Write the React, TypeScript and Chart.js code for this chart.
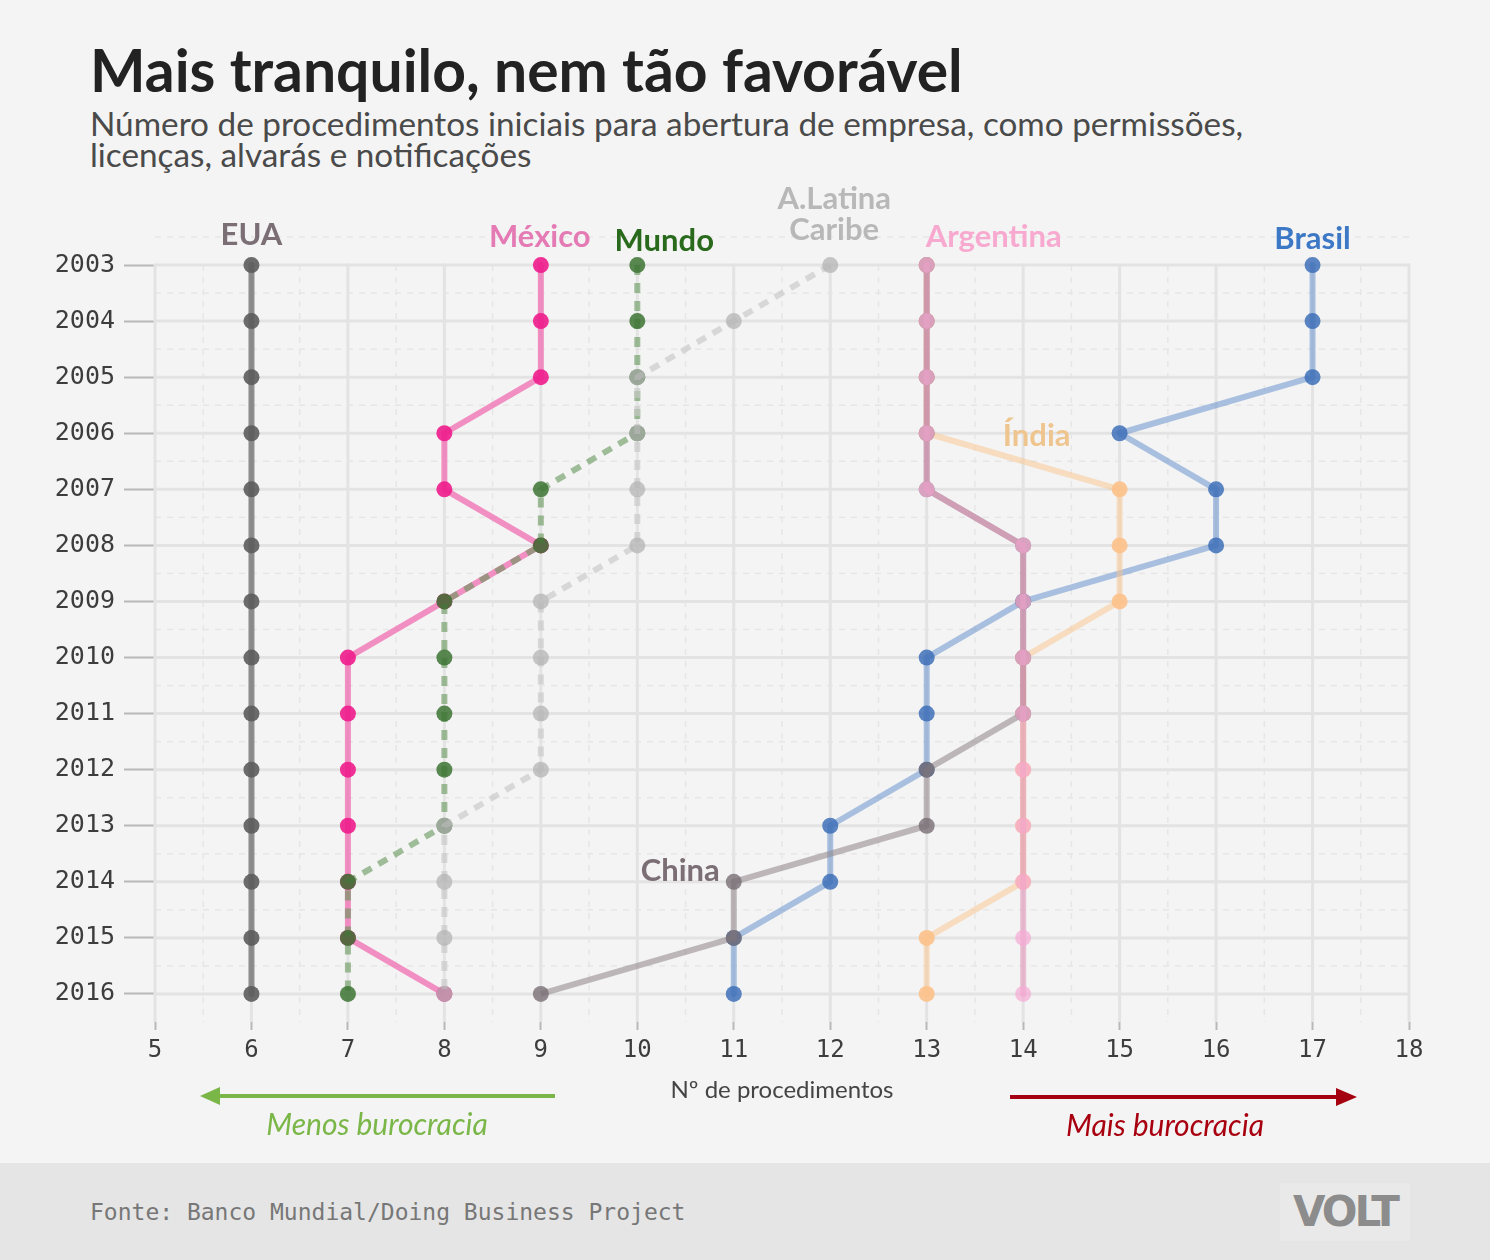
import React, { useEffect, useRef } from 'react';
import { Chart, registerables } from 'chart.js';

Chart.register(...registerables);

// ---------- data ----------
const years = ['2003', '2004', '2005', '2006', '2007', '2008', '2009', '2010', '2011', '2012', '2013', '2014', '2015', '2016'];
const xTicksMin = 5;
const xTicksMax = 18;

const eua = [6, 6, 6, 6, 6, 6, 6, 6, 6, 6, 6, 6, 6, 6];
const mexico = [9, 9, 9, 8, 8, 9, 8, 7, 7, 7, 7, 7, 7, 8];
const mundo = [10, 10, 10, 10, 9, 9, 8, 8, 8, 8, 8, 7, 7, 7];
const alc = [12, 11, 10, 10, 10, 10, 9, 9, 9, 9, 8, 8, 8, 8];
const argentina = [13, 13, 13, 13, 13, 14, 14, 14, 14, 14, 14, 14, 14, 14];
const brasil = [17, 17, 17, 15, 16, 16, 14, 13, 13, 13, 12, 12, 11, 11];
const india = [13, 13, 13, 13, 15, 15, 15, 14, 14, 14, 14, 14, 13, 13];
const china = [13, 13, 13, 13, 13, 14, 14, 14, 14, 13, 13, 11, 11, 9];

// drawing order: first = bottom
const seriesDefs = [
  { name: 'Brasil', values: brasil, line: 'rgba(105,148,205,0.55)', point: 'rgba(62,112,185,0.85)', dashed: false },
  { name: 'Índia', values: india, line: 'rgba(250,200,150,0.55)', point: 'rgba(252,193,138,0.9)', dashed: false },
  { name: 'China', values: china, line: 'rgba(150,140,143,0.6)', point: 'rgba(120,110,116,0.8)', dashed: false },
  { name: 'Argentina', values: argentina, line: 'rgba(225,135,180,0.5)', point: 'rgba(245,172,212,0.72)', dashed: false },
  { name: 'EUA', values: eua, line: 'rgba(100,100,100,0.7)', point: 'rgba(92,92,92,0.9)', dashed: false },
  { name: 'México', values: mexico, line: 'rgba(240,110,178,0.75)', point: 'rgba(238,28,140,0.9)', dashed: false },
  { name: 'Mundo', values: mundo, line: 'rgba(100,150,88,0.6)', point: 'rgba(60,115,50,0.85)', dashed: true },
  { name: 'A.Latina Caribe', values: alc, line: 'rgba(200,200,200,0.65)', point: 'rgba(180,180,180,0.75)', dashed: true },
];

// series name annotations
const annotations = [
  { lines: ['EUA'], color: '#7b6e75' },
  { lines: ['México'], color: '#e47bb4' },
  { lines: ['Mundo'], color: '#2a6a1c' },
  { lines: ['A.Latina', 'Caribe'], color: '#b8b8b8' },
  { lines: ['Argentina'], color: '#f8a9cf' },
  { lines: ['Brasil'], color: '#3d78c6' },
  { lines: ['Índia'], color: '#eec58f' },
  { lines: ['China'], color: '#7b6e75' },
];

const title = 'Mais tranquilo, nem tão favorável';
const subtitle1 = 'Número de procedimentos iniciais para abertura de empresa, como permissões,';
const subtitle2 = 'licenças, alvarás e notificações';
const xTitle = 'Nº de procedimentos';
const lessLabel = 'Menos burocracia';
const moreLabel = 'Mais burocracia';
const source = 'Fonte: Banco Mundial/Doing Business Project';

export default function App() {
  const ref = useRef<HTMLCanvasElement>(null);

  useEffect(() => {
    const canvas = ref.current;
    if (!canvas) return;

    const gridPlugin = {
      id: 'customGrid',
      beforeDatasetsDraw(chart: any) {
        const { ctx, chartArea, scales } = chart;
        const x = scales.x;
        const y = scales.y;
        const top = y.getPixelForValue(0);
        const step = y.getPixelForValue(1) - top;
        const x0 = x.getPixelForValue(xTicksMin);
        const x1 = x.getPixelForValue(xTicksMax);
        const seg = (ax: number, ay: number, bx: number, by: number) => {
          ctx.beginPath();
          ctx.moveTo(ax, ay);
          ctx.lineTo(bx, by);
          ctx.stroke();
        };
        ctx.save();
        ctx.strokeStyle = '#e6e6e6';
        ctx.lineWidth = 1.5;
        ctx.setLineDash([6, 6]);
        for (let i = 0; i < years.length; i++) {
          const yy = y.getPixelForValue(i) - step / 2;
          seg(x0, yy, x1, yy);
        }
        for (let v = xTicksMin + 0.5; v < xTicksMax; v += 1) {
          const xx = x.getPixelForValue(v);
          seg(xx, top, xx, chartArea.bottom);
        }
        ctx.setLineDash([]);
        ctx.strokeStyle = '#e3e3e3';
        ctx.lineWidth = 3;
        for (let i = 0; i < years.length; i++) {
          const yy = y.getPixelForValue(i);
          seg(x0, yy, x1, yy);
        }
        for (let v = xTicksMin; v <= xTicksMax; v += 1) {
          const xx = x.getPixelForValue(v);
          seg(xx, top - 1.5, xx, chartArea.bottom);
        }
        ctx.restore();
      },
      afterDatasetsDraw(chart: any) {
        const { ctx, scales } = chart;
        const x = scales.x;
        const y = scales.y;
        const top = y.getPixelForValue(0);
        ctx.save();
        ctx.font = 'bold 31px Lato';
        ctx.textBaseline = 'alphabetic';
        const put = (idx: number, px: number, py: number, align: CanvasTextAlign) => {
          const a = annotations[idx];
          ctx.fillStyle = a.color;
          ctx.textAlign = align;
          a.lines.forEach((t, k) => ctx.fillText(t, px, py + k * 31));
        };
        put(0, x.getPixelForValue(eua[0]), top - 20, 'center');
        put(1, x.getPixelForValue(mexico[0]) - 1, top - 18, 'center');
        put(2, x.getPixelForValue(mundo[0]) + 27, top - 14, 'center');
        put(3, x.getPixelForValue(alc[0]) + 4, top - 56, 'center');
        put(4, x.getPixelForValue(argentina[0]) - 1, top - 18, 'left');
        put(5, x.getPixelForValue(brasil[0]), top - 16, 'center');
        put(6, x.getPixelForValue(india[3]) + 110, y.getPixelForValue(3) + 13, 'center');
        put(7, x.getPixelForValue(china[11]) - 14, y.getPixelForValue(11) - 1, 'right');
        ctx.restore();
      },
    };

    const datasets = seriesDefs.map((s, i) => ({
      label: s.name,
      data: s.values.map((v, k) => ({ x: v, y: years[k] })),
      borderColor: s.line,
      backgroundColor: s.point,
      pointBackgroundColor: s.point,
      pointBorderWidth: 0,
      pointRadius: 8,
      pointHoverRadius: 8,
      borderWidth: 6,
      borderDash: s.dashed ? [10, 8] : [],
      borderCapStyle: 'butt' as const,
      borderJoinStyle: 'round' as const,
      tension: 0,
      fill: false,
      order: seriesDefs.length - i,
    }));

    const chart = new Chart(canvas, {
      type: 'line',
      data: { labels: years, datasets },
      options: {
        indexAxis: 'y',
        responsive: false,
        maintainAspectRatio: false,
        devicePixelRatio: 1,
        animation: false,
        events: [],
        layout: { padding: { top: 237, right: 81, left: 0, bottom: 0 } },
        plugins: {
          legend: { display: false },
          tooltip: { enabled: false },
          title: { display: false },
        },
        scales: {
          x: {
            type: 'linear',
            position: 'bottom',
            min: xTicksMin,
            max: xTicksMax,
            afterFit: (scale: any) => {
              scale.height = 88;
            },
            border: { display: false },
            grid: {
              display: true,
              drawOnChartArea: false,
              drawTicks: true,
              tickLength: 8,
              tickColor: '#b8b8b8',
              tickWidth: 2,
            },
            ticks: {
              stepSize: 1,
              autoSkip: false,
              maxRotation: 0,
              padding: 6,
              color: '#3d3d3d',
              font: { family: 'DejaVu Sans Mono', size: 24 },
              callback: (v: any) => String(v),
            },
            title: {
              display: true,
              text: xTitle,
              color: '#444',
              font: { family: 'Lato', size: 24 },
              padding: { top: 0, bottom: 5 },
            },
          },
          y: {
            type: 'category',
            labels: years,
            offset: true,
            afterFit: (scale: any) => {
              scale.width = 155;
            },
            border: { display: false },
            grid: {
              display: true,
              drawOnChartArea: false,
              drawTicks: true,
              offset: false,
              tickLength: 31,
              tickColor: '#b8b8b8',
              tickWidth: 2,
            },
            ticks: {
              autoSkip: false,
              padding: 9,
              color: '#3d3d3d',
              font: { family: 'DejaVu Sans Mono', size: 25 },
            },
          },
        },
      },
      plugins: [gridPlugin],
    } as any);

    return () => chart.destroy();
  }, []);

  return (
    <div
      style={{
        position: 'absolute',
        left: 0,
        top: 0,
        width: 1490,
        height: 1260,
        background: '#f4f4f4',
        overflow: 'hidden',
        fontFamily: 'Lato, sans-serif',
      }}
    >
      <div
        style={{
          position: 'absolute',
          left: 90,
          top: 41,
          fontSize: 58.8,
          lineHeight: '58px',
          fontWeight: 700,
          color: '#222',
          whiteSpace: 'nowrap',
        }}
      >
        {title}
      </div>
      <div
        style={{
          position: 'absolute',
          left: 90,
          top: 108,
          fontSize: 33.3,
          lineHeight: '31px',
          color: '#4a4a4a',
          whiteSpace: 'nowrap',
        }}
      >
        <div>{subtitle1}</div>
        <div>{subtitle2}</div>
      </div>

      <div style={{ position: 'absolute', left: 0, top: 0, width: 1490, height: 1110 }}>
        <canvas ref={ref} width={1490} height={1110} style={{ display: 'block', width: 1490, height: 1110 }} />
      </div>

      <svg
        width={1490}
        height={60}
        style={{ position: 'absolute', left: 0, top: 1070 }}
      >
        <line x1={218} y1={26} x2={555} y2={26} stroke="#7ab648" strokeWidth={4} />
        <polygon points="200,26 220,17 220,35" fill="#7ab648" />
        <line x1={1010} y1={27} x2={1338} y2={27} stroke="#a50010" strokeWidth={4} />
        <polygon points="1357,27 1336,18 1336,36" fill="#a50010" />
      </svg>
      <div
        style={{
          position: 'absolute',
          left: 227,
          width: 300,
          textAlign: 'center',
          top: 1105,
          fontSize: 30,
          fontStyle: 'italic',
          color: '#7ab648',
          lineHeight: '36px',
        }}
      >
        {lessLabel}
      </div>
      <div
        style={{
          position: 'absolute',
          left: 1015,
          width: 300,
          textAlign: 'center',
          top: 1106,
          fontSize: 30,
          fontStyle: 'italic',
          color: '#a8000f',
          lineHeight: '36px',
        }}
      >
        {moreLabel}
      </div>

      <div
        style={{
          position: 'absolute',
          left: 0,
          top: 1163,
          width: 1490,
          height: 97,
          background: '#e5e5e5',
        }}
      >
        <div
          style={{
            position: 'absolute',
            left: 90,
            top: 34,
            fontFamily: '"DejaVu Sans Mono", monospace',
            fontSize: 23,
            lineHeight: '30px',
            color: '#777',
            whiteSpace: 'nowrap',
          }}
        >
          {source}
        </div>
        <div
          style={{
            position: 'absolute',
            left: 1280,
            top: 20,
            width: 130,
            height: 58,
            background: '#e9e9e9',
            textAlign: 'center',
            fontFamily: '"DejaVu Sans", sans-serif',
            fontWeight: 700,
            fontSize: 42,
            lineHeight: '58px',
            letterSpacing: -3,
            color: '#8c8c8c',
          }}
        >
          VOLT
        </div>
      </div>
    </div>
  );
}
